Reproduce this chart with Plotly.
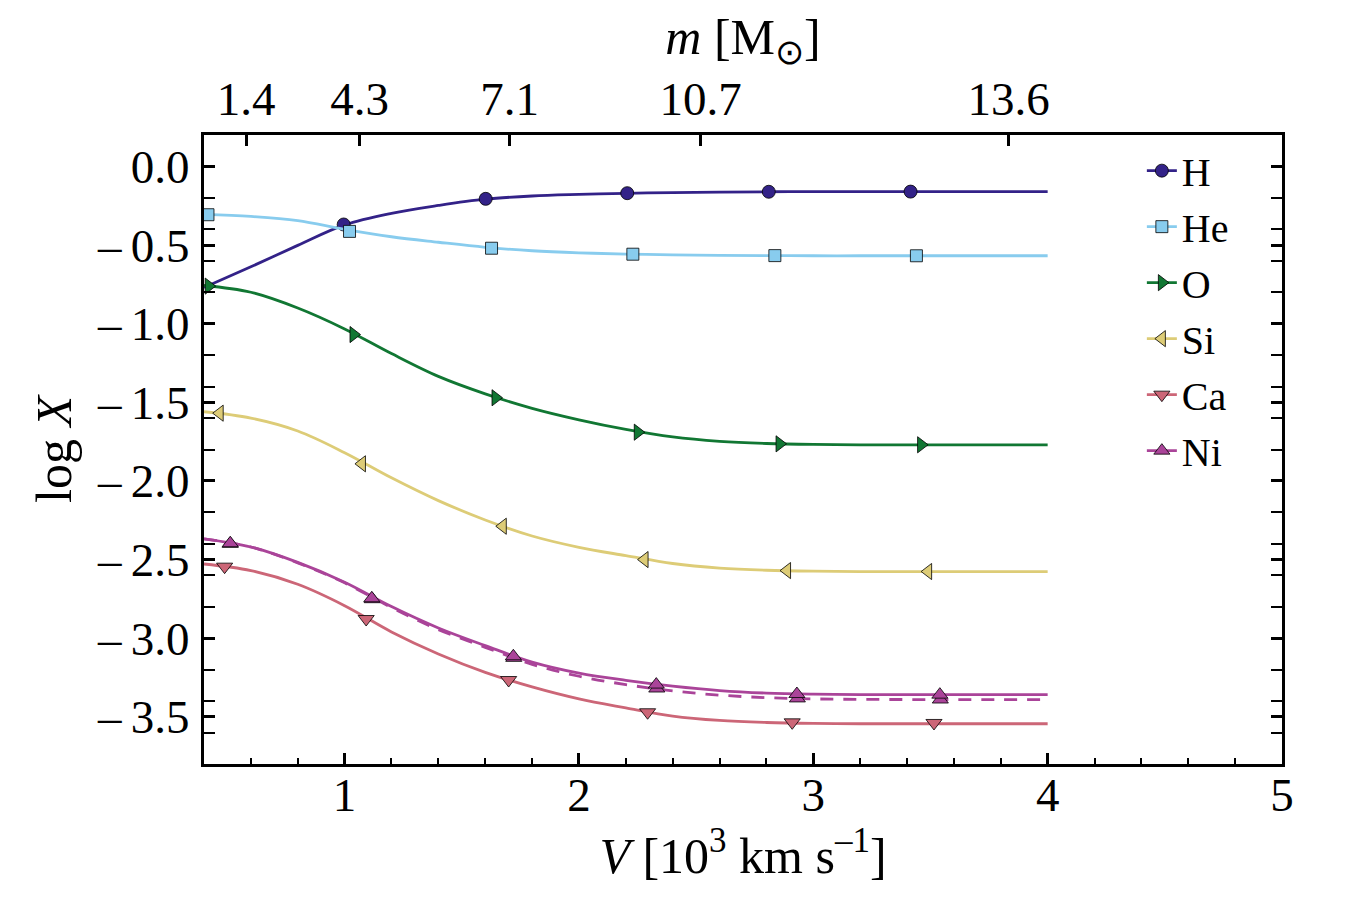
import plotly.graph_objects as go

# ---------------- data ----------------
V_GRID = [0.4, 0.6, 0.8, 1.0, 1.2, 1.4, 1.6, 1.8, 2.0, 2.2, 2.4, 2.6, 2.8, 3.0, 3.2, 3.4, 3.6, 3.8, 4.0]

H_CURVE = [-0.770, -0.638, -0.502, -0.372, -0.298, -0.248, -0.208, -0.188, -0.178, -0.171,
           -0.166, -0.163, -0.161, -0.160, -0.160, -0.160, -0.160, -0.160, -0.160]
HE_CURVE = [-0.305, -0.318, -0.345, -0.400, -0.447, -0.482, -0.514, -0.536, -0.549, -0.557,
            -0.562, -0.565, -0.567, -0.568, -0.568, -0.568, -0.568, -0.568, -0.568]
O_CURVE = [-0.757, -0.800, -0.900, -1.033, -1.190, -1.335, -1.446, -1.538, -1.611, -1.672,
           -1.720, -1.748, -1.762, -1.768, -1.770, -1.770, -1.770, -1.770, -1.770]
SI_CURVE = [-1.560, -1.600, -1.682, -1.820, -1.980, -2.125, -2.248, -2.350, -2.422, -2.475,
            -2.525, -2.554, -2.568, -2.574, -2.576, -2.576, -2.576, -2.576, -2.576]
CA_CURVE = [-2.528, -2.570, -2.657, -2.793, -2.960, -3.100, -3.217, -3.310, -3.386, -3.443,
            -3.495, -3.523, -3.536, -3.542, -3.544, -3.544, -3.544, -3.544, -3.544]
NI_CURVE = [-2.368, -2.420, -2.518, -2.644, -2.799, -2.935, -3.047, -3.152, -3.222, -3.268,
            -3.305, -3.333, -3.349, -3.356, -3.359, -3.359, -3.359, -3.359, -3.359]
NI_DASH_CURVE = [-2.368, -2.420, -2.521, -2.648, -2.805, -2.945, -3.058, -3.166, -3.242, -3.295,
                 -3.335, -3.362, -3.378, -3.386, -3.389, -3.390, -3.390, -3.390, -3.390]

H_MX = [0.996, 1.602, 2.206, 2.810, 3.415]
H_MY = [-0.369, -0.206, -0.170, -0.161, -0.160]
HE_MX = [0.417, 1.021, 1.627, 2.230, 2.836, 3.440]
HE_MY = [-0.307, -0.413, -0.520, -0.558, -0.567, -0.568]
O_MX = [0.420, 1.038, 1.644, 2.251, 2.856, 3.460]
O_MY = [-0.761, -1.069, -1.471, -1.690, -1.764, -1.770]
SI_MX = [0.467, 1.074, 1.675, 2.280, 2.888, 3.490]
SI_MY = [-1.569, -1.891, -2.288, -2.500, -2.570, -2.576]
CA_MX = [0.488, 1.092, 1.700, 2.293, 2.910, 3.515]
CA_MY = [-2.545, -2.878, -3.266, -3.471, -3.535, -3.539]
NI_MX = [0.512, 1.116, 1.720, 2.330, 2.930, 3.540]
NI_MY = [-2.396, -2.746, -3.115, -3.295, -3.355, -3.359]
NI_DASH_MX = [0.512, 1.118, 1.722, 2.332, 2.932, 3.542]
NI_DASH_MY = [-2.400, -2.752, -3.125, -3.320, -3.383, -3.390]

SPECIES = ["H", "He", "O", "Si", "Ca", "Ni"]
COLORS = ["#332288", "#88CCEE", "#117733", "#DDCC77", "#CC6677", "#AA4499"]
SYMBOLS = ["circle", "square", "triangle-right", "triangle-left", "triangle-down", "triangle-up"]

X_TICKVALS = [1, 2, 3, 4, 5]
X_TICKTEXT = ["1", "2", "3", "4", "5"]
Y_TICKVALS = [0.0, -0.5, -1.0, -1.5, -2.0, -2.5, -3.0, -3.5]
Y_TICKTEXT = ["0.0", "\u2013\u20090.5", "\u2013\u20091.0", "\u2013\u20091.5", "\u2013\u20092.0",
              "\u2013\u20092.5", "\u2013\u20093.0", "\u2013\u20093.5"]
TOP_TICKVALS = [0.58, 1.064, 1.704, 2.519, 3.833]
TOP_TICKTEXT = ["1.4", "4.3", "7.1", "10.7", "13.6"]

FONT = "Liberation Serif"

curves = [H_CURVE, HE_CURVE, O_CURVE, SI_CURVE, CA_CURVE, NI_CURVE]
mxs = [H_MX, HE_MX, O_MX, SI_MX, CA_MX, NI_MX]
mys = [H_MY, HE_MY, O_MY, SI_MY, CA_MY, NI_MY]
msizes = [13, 12, 14, 14, 14, 14]
LW = 2.8

fig = go.Figure()

# dashed Ni variant
fig.add_trace(go.Scatter(x=V_GRID, y=NI_DASH_CURVE, mode="lines",
                         line=dict(color=COLORS[5], width=LW, dash="13px,10px", shape="spline"),
                         showlegend=False, hoverinfo="skip"))
fig.add_trace(go.Scatter(x=NI_DASH_MX, y=NI_DASH_MY, mode="markers",
                         marker=dict(symbol="triangle-up", size=14, color=COLORS[5], line=dict(color="black", width=0.8)),
                         showlegend=False))

for name, col, sym, cy, mx, my, ms in zip(SPECIES, COLORS, SYMBOLS, curves, mxs, mys, msizes):
    fig.add_trace(go.Scatter(x=V_GRID, y=cy, mode="lines", line=dict(color=col, width=LW, shape="spline"),
                             showlegend=False, hoverinfo="skip"))
    fig.add_trace(go.Scatter(x=mx, y=my, mode="markers",
                             marker=dict(symbol=sym, size=ms, color=col, line=dict(color="black", width=0.8)),
                             showlegend=False))
    fig.add_trace(go.Scatter(x=[None], y=[None], mode="lines+markers", name=name, legendgroup=name,
                             line=dict(color=col, width=LW),
                             marker=dict(symbol=sym, size=ms, color=col, line=dict(color="black", width=0.8))))

# dummy trace for top axis
fig.add_trace(go.Scatter(x=[None], y=[None], xaxis="x2", showlegend=False))

axis_common = dict(showgrid=False, zeroline=False, linecolor="black", linewidth=3,
                   ticks="inside", tickcolor="black", tickwidth=2.5, ticklen=11,
                   tickfont=dict(family=FONT, size=47, color="black"))

fig.update_layout(
    width=1350, height=900,
    margin=dict(l=204, r=68, t=135, b=136),
    paper_bgcolor="white", plot_bgcolor="white",
    font=dict(family=FONT, color="black"),
    xaxis=dict(range=[0.4, 5], tickvals=X_TICKVALS, ticktext=X_TICKTEXT, mirror=True, showline=True,
               minor=dict(dtick=0.2, tick0=0, ticks="inside", ticklen=6, tickwidth=2, tickcolor="black"),
               title=dict(text="<i>V</i> [10<sup>3</sup> km s<sup>\u20131</sup>]", font=dict(family=FONT, size=50), standoff=0),
               ticklabelstandoff=-12,
               **axis_common),
    yaxis=dict(range=[-3.8, 0.2], tickvals=Y_TICKVALS, ticktext=Y_TICKTEXT, mirror="allticks", showline=True,
               minor=dict(dtick=0.2, tick0=0, ticks="inside", ticklen=6, tickwidth=2, tickcolor="black"),
               title=dict(text="log <i>X</i>", font=dict(family=FONT, size=50), standoff=10),
               ticklabelstandoff=2,
               **axis_common),
    xaxis2=dict(range=[0.4, 5], overlaying="x", side="top", anchor="y", tickvals=TOP_TICKVALS, ticktext=TOP_TICKTEXT,
                showline=False, showgrid=False, zeroline=False,
                ticks="inside", tickcolor="black", tickwidth=2.5, ticklen=11,
                tickfont=dict(family=FONT, size=47, color="black"),
                title=dict(text="<i>m</i> [M<sub>\u2299</sub>]", font=dict(family=FONT, size=50), standoff=2),
                ticklabelstandoff=10),
    legend=dict(x=0.87, y=0.995, xanchor="left", yanchor="top", bgcolor="rgba(0,0,0,0)",
                font=dict(family=FONT, size=40, color="black"), tracegroupgap=1, itemwidth=30),
)

fig.write_html("out.html")
